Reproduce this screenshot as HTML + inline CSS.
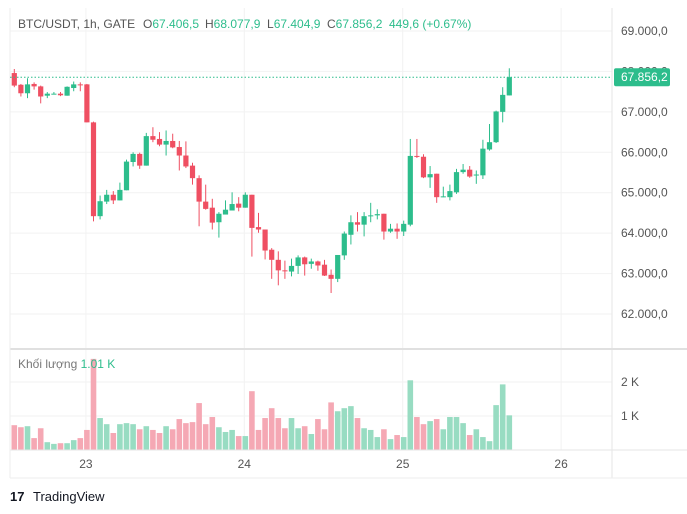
<!DOCTYPE html>
<html><head><meta charset="utf-8">
<style>
body{margin:0;background:#fff;width:687px;height:514px;overflow:hidden;font-family:"Liberation Sans","Noto Sans CJK SC",sans-serif;}
svg{display:block}
</style></head><body>
<svg id="chart" width="687" height="514">
<g id="grid"></g><g id="vol"></g><g id="candles"></g><g id="axes"></g>
<g font-size="12">
<text x="18" y="28" fill="#555">BTC/USDT, 1h, GATE</text>
<text x="143" y="28" fill="#555">O<tspan fill="#2dbd8c">67.406,5</tspan></text>
<text x="205" y="28" fill="#555">H<tspan fill="#2dbd8c">68.077,9</tspan></text>
<text x="267" y="28" fill="#555">L<tspan fill="#2dbd8c">67.404,9</tspan></text>
<text x="327" y="28" fill="#555">C<tspan fill="#2dbd8c">67.856,2</tspan></text>
<text x="389" y="28" fill="#2dbd8c">449,6 (+0.67%)</text>
</g>
<text x="18" y="368" font-size="12" fill="#777">Khối lượng <tspan fill="#2dbd8c">1.01 K</tspan></text>
<g><text x="10" y="501" font-size="13" font-weight="bold" fill="#131722">17</text><text x="33" y="501" font-size="13" fill="#131722">TradingView</text></g>
</svg>
<script>
const opens=[67960,67670,67460,67690,67630,67400,67440,67450,67400,67590,67680,67680,66740,64420,64780,64950,64810,65060,65760,65960,65670,66400,66330,66190,66280,66130,65920,65670,65360,64780,64630,64270,64460,64560,64730,64630,64950,64150,64090,63590,63340,63080,63050,63190,63400,63240,63300,63220,62970,62870,63450,63960,64270,64210,64420,64440,64480,64040,64110,64040,64210,65910,65890,65380,65470,64890,64890,65010,65510,65570,65430,65430,66070,66250,67000,67406.5];
const closes=[67650,67460,67680,67630,67380,67450,67450,67410,67620,67680,67660,66740,64420,64790,64950,64810,65070,65770,65960,65670,66400,66310,66190,66280,66120,65920,65650,65360,64780,64600,64260,64480,64580,64720,64630,64950,64130,64090,63570,63340,63080,63070,63190,63400,63230,63300,63200,62950,62870,63460,63990,64270,64210,64420,64440,64470,64040,64110,64040,64230,65910,65890,65380,65460,64890,64910,65040,65510,65570,65400,65450,66090,66250,67010,67420,67856.2];
const highs=[68060,67690,67830,67730,67650,67490,67490,67490,67630,67750,67730,67690,66760,64930,65070,65040,65250,65820,66000,65990,66480,66620,66500,66540,66460,66280,66270,65740,65430,65200,64850,64520,64810,65010,64890,65010,64950,64500,64090,63630,63550,63320,63370,63450,63420,63370,63320,63340,63100,63460,64040,64440,64520,64520,64750,64590,64480,64230,64240,64310,66330,66330,65950,65660,65470,65150,65200,65590,65710,65660,65550,66310,66700,67030,67610,68077.9];
const lows=[67610,67380,67340,67550,67210,67340,67430,67390,67400,67510,67510,66740,64290,64340,64720,64720,64810,65060,65650,65590,65670,66250,66150,65920,66100,65550,65610,65200,64170,64580,64090,63890,64460,64560,64540,64630,63420,64010,63350,62870,62710,62870,62930,62990,62950,63120,63070,62940,62520,62790,63340,63720,64040,63920,64270,64340,63840,64010,63860,63930,64170,65860,65360,65120,64750,64890,64810,64970,65470,65370,65220,65340,66040,66230,66740,67404.9];
const volumes=[0.73,0.67,0.70,0.35,0.64,0.23,0.18,0.20,0.20,0.29,0.35,0.59,2.68,0.94,0.76,0.50,0.76,0.79,0.76,0.61,0.70,0.59,0.50,0.70,0.61,0.91,0.79,0.82,1.38,0.76,0.97,0.67,0.53,0.59,0.41,0.41,1.73,0.59,0.94,1.23,0.94,0.64,0.94,0.64,0.70,0.47,0.91,0.61,1.40,1.14,1.23,1.29,0.94,0.64,0.59,0.38,0.61,0.32,0.44,0.38,2.05,0.97,0.76,0.85,0.91,0.61,0.97,0.97,0.79,0.44,0.61,0.38,0.26,1.32,1.93,1.02];
const priceTicks=[69000,68000,67000,66000,65000,64000,63000,62000];
const priceTickLabels=["69.000,0","68.000,0","67.000,0","66.000,0","65.000,0","64.000,0","63.000,0","62.000,0"];
const volTicks=[1,2];
const volTickLabels=["1 K","2 K"];
const dayLabels=["23","24","25","26"];
const dayStartIndex=[10.85,34.85,58.85,82.85];
const lastPrice=67856.2;
const lastPriceLabel="67.856,2";

const NS="http://www.w3.org/2000/svg";
function mk(p,t,a){const e=document.createElementNS(NS,t);for(const k in a)e.setAttribute(k,a[k]);p.appendChild(e);return e;}
const xOf=i=>14.3+i*6.6;
const yP=p=>31+(69000-p)*0.04043;
const yV=v=>450-v*34;
const G=document.getElementById('grid'),V=document.getElementById('vol'),C=document.getElementById('candles'),A=document.getElementById('axes');
const UP='#2dbd8c',DN='#ef4f62';
let r=mk(A,'line',{x1:612,y1:8,x2:612,y2:478,stroke:'#e6e6e6'});

r=mk(A,'line',{x1:10,y1:349,x2:687,y2:349,stroke:'#e0e0e0','stroke-width':2});

r=mk(A,'line',{x1:10,y1:450,x2:687,y2:450,stroke:'#e6e6e6'});

r=mk(A,'line',{x1:10,y1:478,x2:687,y2:478,stroke:'#eee'});

r=mk(A,'line',{x1:10,y1:8,x2:10,y2:478,stroke:'#eee'});

priceTicks.forEach((p,i)=>{
  const y=yP(p);
  const l=mk(G,'line',{x1:10,y1:y,x2:612,y2:y,stroke:'#f2f2f2'});
  
  const t=mk(A,'text',{x:621,y:y+4,'font-size':12,fill:'#555'});t.textContent=priceTickLabels[i];
  
});
volTicks.forEach((v,i)=>{
  const y=yV(v);
  const l=mk(G,'line',{x1:10,y1:y,x2:612,y2:y,stroke:'#f2f2f2'});
  
  const t=mk(A,'text',{x:621,y:y+4,'font-size':12,fill:'#555'});t.textContent=volTickLabels[i];
  
});
dayLabels.forEach((d,i)=>{
  const x=xOf(dayStartIndex[i]);
  const l=mk(G,'line',{x1:x,y1:8,x2:x,y2:450,stroke:'#f2f2f2'});
  
  const t=mk(A,'text',{x:x,y:468,'font-size':12,fill:'#555','text-anchor':'middle'});t.textContent=d;
  
});
volumes.forEach((v,i)=>{
  const up=closes[i]>=opens[i];const x=xOf(i);
  const b=mk(V,'rect',{x:x-2.8,y:Math.max(yV(v),352),width:5.6,height:450-Math.max(yV(v),352),fill:up?'#98dcc2':'#f5a8b4'});
  
});
opens.forEach((o,i)=>{
  const c=closes[i],up=c>=o,x=xOf(i),col=up?UP:DN;
  const w=mk(C,'line',{x1:x,x2:x,y1:yP(highs[i]),y2:yP(lows[i]),stroke:col,'stroke-width':1});
  
  const top=yP(Math.max(o,c)),h=Math.max(1,Math.abs(yP(o)-yP(c)));
  const b=mk(C,'rect',{x:x-2.6,y:top,width:5.2,height:h,fill:col});
  
});
const ly=yP(lastPrice);
let ll=mk(A,'line',{x1:10,x2:612,y1:ly,y2:ly,stroke:UP,'stroke-dasharray':'1.5 2'});

let lb=mk(A,'rect',{x:614,y:ly-9,width:56,height:18,fill:UP,rx:2});

let lt=mk(A,'text',{x:621,y:ly+4,'font-size':12,fill:'#fff'});lt.textContent=lastPriceLabel;

</script>
</body></html>
